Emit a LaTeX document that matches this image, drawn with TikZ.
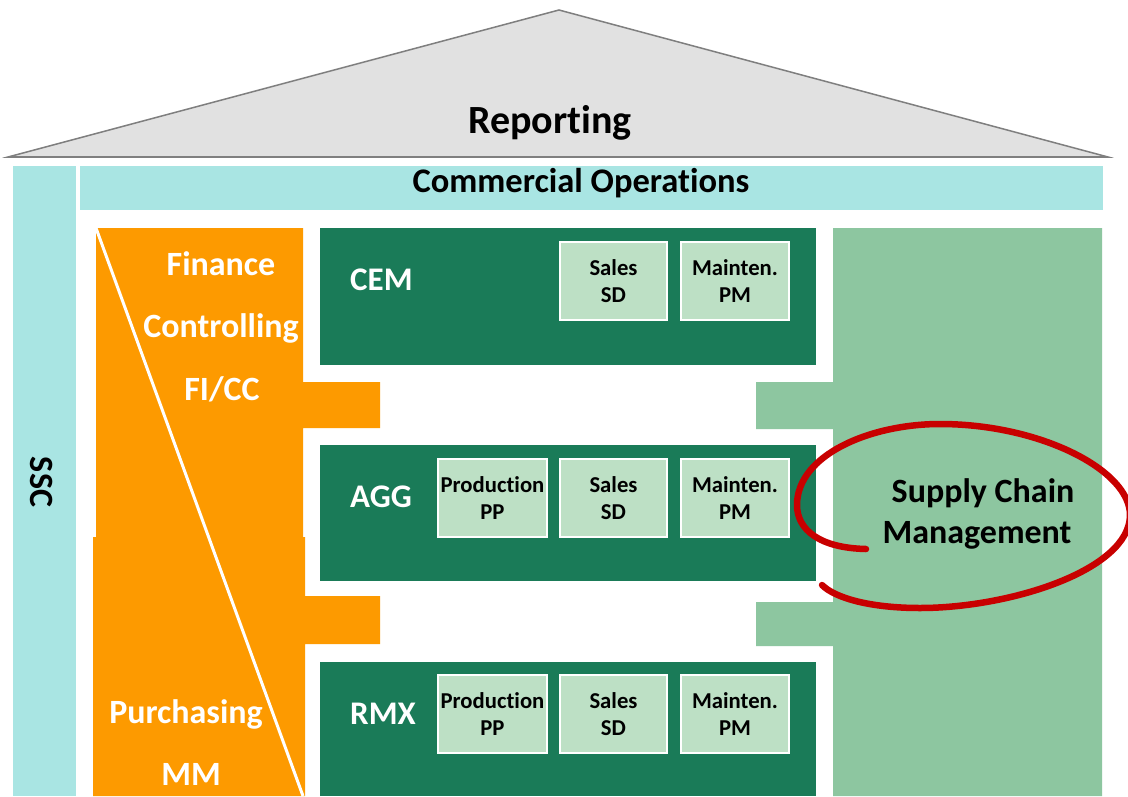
\documentclass[tikz,border=0pt]{standalone}
\usepackage{fontspec}
\setmainfont{Carlito}[Ligatures=CommonOff]
\definecolor{roofgray}{HTML}{E1E1E1}
\definecolor{roofline}{HTML}{7F7F7F}
\definecolor{cyanband}{HTML}{A9E5E3}
\definecolor{orng}{HTML}{FD9A00}
\definecolor{dkgreen}{HTML}{1A7B58}
\definecolor{ltgreen}{HTML}{8DC6A0}
\definecolor{subgreen}{HTML}{BDE0C5}
\definecolor{circred}{HTML}{C80000}
\tikzset{
  lbl/.style={font=\bfseries\fontsize{#1}{#1}\selectfont, inner sep=0pt, anchor=base},
  wlbl/.style={lbl=#1, text=white},
  subbox/.style={fill=subgreen, draw=white, line width=2.2pt, minimum width=#1, minimum height=78pt,
     inner sep=0pt, align=center, font=\bfseries\fontsize{22.7}{27}\selectfont},
  redline/.style={circred, line width=#1, line cap=round, line join=round},
}
\begin{document}
\begin{tikzpicture}[x=1pt,y=-1pt]
\useasboundingbox (0,0) rectangle (1128,796);
\clip (0,0) rectangle (1128,796);
\fill[white] (0,0) rectangle (1128,796);
% roof
\filldraw[fill=roofgray, draw=roofline, line width=1.5pt, line join=miter] (8,157) -- (559,10) -- (1108,157) -- cycle;
\draw[roofline, line width=2.5pt] (8,157) -- (1108,157);
\node[lbl=40] (rep) at (550,133) {Reporting};
% SSC and commercial operations
\fill[cyanband] (13,166) rectangle (76,796);
\fill[cyanband] (80,166) rectangle (1103,210);
\node[lbl=34.5] (comops) at (581,192) {Commercial Operations};
\node[font=\bfseries\fontsize{34}{34}\selectfont, inner sep=0pt, rotate=-90] (ssc) at (42,482) {SSC};
% orange pillar
\fill[orng] (96,228) -- (303,228) -- (303,382) -- (380,382) -- (380,428) -- (303,428) -- (303,537)
  -- (305,537) -- (305,596) -- (380,596) -- (380,644) -- (305,644) -- (305,796) -- (93,796) -- (93,537) -- (96,537) -- cycle;
\draw[white, line width=3pt] (96,228) -- (303,796);
\node[wlbl=34] (fin1) at (221,275) {Finance};
\node[wlbl=34] (fin2) at (221,337) {Controlling};
\node[wlbl=34] (fin3) at (222,400) {FI/CC};
\node[wlbl=34] (pur1) at (186,723) {Purchasing};
\node[wlbl=34] (pur2) at (191,785) {MM};
% supply chain pillar
\fill[ltgreen] (833,228) -- (1102,228) -- (1102,796) -- (833,796) -- (833,646) -- (756,646) -- (756,602)
  -- (833,602) -- (833,429) -- (756,429) -- (756,382) -- (833,382) -- cycle;
% business units
\fill[dkgreen] (320,228) rectangle (816,365);
\fill[dkgreen] (320,445) rectangle (816,581);
\fill[dkgreen] (320,662) rectangle (816,796);
\node[wlbl=33, anchor=base west] (cem) at (350,290) {CEM};
\node[wlbl=33, anchor=base west] (agg) at (350,507) {AGG};
\node[wlbl=33, anchor=base west] (rmx) at (350,724) {RMX};
% modules
\node[subbox=107pt] (cemsd) at (613.5,281) {Sales\\SD};
\node[subbox=108pt] (cempm) at (735,281) {Mainten.\\PM};
\node[subbox=109pt] (aggpp) at (492.5,498) {Production\\PP};
\node[subbox=107pt] (aggsd) at (613.5,498) {Sales\\SD};
\node[subbox=108pt] (aggpm) at (735,498) {Mainten.\\PM};
\node[subbox=109pt] (rmxpp) at (492.5,714) {Production\\PP};
\node[subbox=107pt] (rmxsd) at (613.5,714) {Sales\\SD};
\node[subbox=108pt] (rmxpm) at (735,714) {Mainten.\\PM};
% supply chain label
\node[lbl=34] (scm1) at (983,502) {Supply Chain};
\node[lbl=34] (scm2) at (977,543) {Management};
% red hand-drawn circle
\draw[redline=6.5pt]
  (866,549) .. controls (820,548) and (797,530) .. (797,505)
  .. controls (797,455) and (870,424) .. (940,424)
  .. controls (1040,424) and (1130,470) .. (1130,515)
  .. controls (1130,570) and (1010,608) .. (920,608)
  .. controls (870,608) and (835,598) .. (822,585);
\end{tikzpicture}
\end{document}
